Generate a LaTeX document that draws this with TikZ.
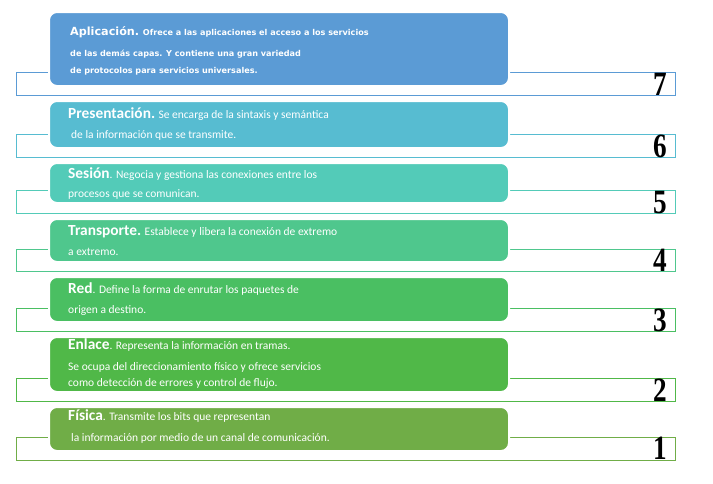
\documentclass[tikz,border=0pt]{standalone}
\usepackage{fontspec}
\newfontfamily\capafont{Carlito}
\newfontfamily\altafont{DejaVu Sans}
\newfontfamily\numfont{Liberation Serif}
\definecolor{c7}{HTML}{5B9BD5}
\definecolor{c6}{HTML}{57BCD1}
\definecolor{c5}{HTML}{53CBB8}
\definecolor{c4}{HTML}{4FC78D}
\definecolor{c3}{HTML}{4ABF62}
\definecolor{c2}{HTML}{50B848}
\definecolor{c1}{HTML}{70AD47}
\newcommand{\titulo}[1]{{\bfseries\fontsize{15.4}{20}\selectfont #1}}

\begin{document}
\begin{tikzpicture}[x=1pt,y=-1pt,
    capa/.style={rounded corners=8pt,draw=white,line width=2pt,fill=#1,
      minimum width=460pt,inner sep=0pt},
    marco/.style={draw=#1,line width=1pt},
    texto/.style={anchor=base west,align=left,text=white,inner sep=0pt,
      font=\capafont\fontsize{11.5}{20}\selectfont},
    nivel/.style={anchor=base east,inner sep=0pt,xscale=0.8,
      font=\numfont\bfseries\fontsize{34}{34}\selectfont}]
  \useasboundingbox (0,0) rectangle (713,483);

  % marcos
  \draw[marco=c7] (16,72) rectangle (675,95);
  \draw[marco=c6] (16,134) rectangle (675,157);
  \draw[marco=c5] (16,190) rectangle (675,213);
  \draw[marco=c4] (16,249) rectangle (675,271);
  \draw[marco=c3] (16,308) rectangle (675,331);
  \draw[marco=c2] (16,378) rectangle (675,401);
  \draw[marco=c1] (16,437) rectangle (675,460);

  % capas
  \node[capa=c7,minimum height=74pt] (b7) at (279,49) {};
  \node[capa=c6,minimum height=47pt] (b6) at (279,124.5) {};
  \node[capa=c5,minimum height=40pt] (b5) at (279,183) {};
  \node[capa=c4,minimum height=43pt] (b4) at (279,240.5) {};
  \node[capa=c3,minimum height=45pt] (b3) at (279,299.5) {};
  \node[capa=c2,minimum height=55pt] (b2) at (279,364.5) {};
  \node[capa=c1,minimum height=44pt] (b1) at (279,429) {};

  % textos (base = ultima linea)
  \node[texto,font=\altafont\bfseries\fontsize{8.1}{20}\selectfont] (t7) at (70,73)
    {{\fontsize{11.2}{20}\selectfont Aplicación.} Ofrece a las aplicaciones el acceso a los servicios\\[1pt]
     de las demás capas. Y contiene una gran variedad\\[-3pt]
     de protocolos para servicios universales.};
  \node[texto] (t6) at (68,138)
    {\titulo{Presentación.} Se encarga de la sintaxis y semántica\\
     \hspace{3pt}de la información que se transmite.};
  \node[texto] (t5) at (68,197)
    {\titulo{Sesión}. Negocia y gestiona las conexiones entre los\\[-1pt]
     procesos que se comunican.};
  \node[texto] (t4) at (68,255)
    {\titulo{Transporte.} Establece y libera la conexión de extremo\\
     a extremo.};
  \node[texto] (t3) at (68,313)
    {\titulo{Red}. Define la forma de enrutar los paquetes de\\
     origen a destino.};
  \node[texto] (t2) at (68,386)
    {\titulo{Enlace}. Representa la información en tramas.\\[1pt]
     Se ocupa del direccionamiento físico y ofrece servicios\\[-4pt]
     como detección de errores y control de flujo.};
  \node[texto] (t1) at (68,441)
    {\titulo{Física}. Transmite los bits que representan\\[1pt]
     \hspace{3pt}la información por medio de un canal de comunicación.};

  % niveles
  \node[nivel] (n7) at (667,95) {7};
  \node[nivel] (n6) at (667,157) {6};
  \node[nivel] (n5) at (667,213) {5};
  \node[nivel] (n4) at (667,271) {4};
  \node[nivel] (n3) at (667,331) {3};
  \node[nivel] (n2) at (667,401) {2};
  \node[nivel] (n1) at (667,459) {1};
\end{tikzpicture}
\end{document}
